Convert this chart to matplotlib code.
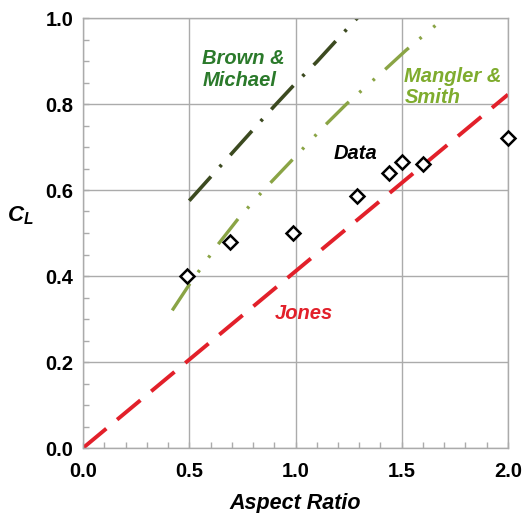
import matplotlib
matplotlib.use("Agg")
import matplotlib.pyplot as plt
from matplotlib.ticker import MultipleLocator, FormatStrFormatter

plt.rcParams['font.family'] = ['Liberation Sans', 'DejaVu Sans']
plt.rcParams['mathtext.fontset'] = 'custom'
plt.rcParams['mathtext.it'] = 'Liberation Sans:italic:bold'
plt.rcParams['mathtext.rm'] = 'Liberation Sans:bold'

# Measured lift coefficients
ar_data = [0.49, 0.69, 0.99, 1.29, 1.44, 1.50, 1.60, 2.00]
cl_data = [0.40, 0.48, 0.50, 0.585, 0.64, 0.665, 0.66, 0.72]

# Jones slender-wing theory
ar_jones = [0.0, 1.0, 2.0]
cl_jones = [0.0, 0.411, 0.822]

# Brown & Michael vortex model
ar_bm = [0.50, 0.60, 0.70, 0.80, 0.90, 1.00, 1.10, 1.20, 1.30]
cl_bm = [0.575, 0.630, 0.685, 0.740, 0.795, 0.848, 0.898, 0.952, 1.005]

# Mangler & Smith model
ar_ms = [0.42, 0.50, 0.63, 0.73, 0.85, 1.00, 1.14, 1.24, 1.41, 1.52, 1.70]
cl_ms = [0.32, 0.38, 0.47, 0.533, 0.60, 0.678, 0.751, 0.80, 0.875, 0.925, 1.00]

x_ticks = [0.0, 0.5, 1.0, 1.5, 2.0]
y_ticks = [0.0, 0.2, 0.4, 0.6, 0.8, 1.0]

fig = plt.figure(figsize=(5.26, 5.13), dpi=100)
ax = fig.add_axes([83 / 526, 1 - 448 / 513, (508 - 83) / 526, (448 - 18) / 513])

grey = '#ababab'
ax.set_xlim(0, 2.0)
ax.set_ylim(0, 1.0)
ax.set_xticks(x_ticks)
ax.set_yticks(y_ticks)
ax.xaxis.set_minor_locator(MultipleLocator(0.1))
ax.yaxis.set_minor_locator(MultipleLocator(0.05))
ax.xaxis.set_major_formatter(FormatStrFormatter('%.1f'))
ax.yaxis.set_major_formatter(FormatStrFormatter('%.1f'))
ax.grid(True, which='major', color=grey, lw=1.0)
ax.set_axisbelow(True)
for s in ax.spines.values():
    s.set_color(grey)
    s.set_linewidth(1.0)
ax.tick_params(which='both', direction='in', color=grey, width=1.0, length=4,
               top=False, right=False)
ax.tick_params(axis='y', which='major', labelsize=14.5, pad=7)
ax.tick_params(axis='x', which='major', labelsize=14.5, pad=10)
for lab in ax.get_xticklabels() + ax.get_yticklabels():
    lab.set_fontweight('bold')

ax.plot(ar_jones, cl_jones, color='#e2202a', lw=2.8,
        linestyle=(0, (7.8, 3.6)))
ax.plot(ar_bm, cl_bm, color='#3c4a20', lw=2.6,
        linestyle=(0, (9.0, 3.6, 0.8, 3.6)))
ax.plot(ar_ms, cl_ms, color='#8aa445', lw=2.4,
        linestyle=(0, (9.6, 4.2, 0.8, 4.6, 0.8, 4.2)))
ax.plot(ar_data, cl_data, linestyle='none', marker='D', ms=7.5,
        mfc='white', mec='black', mew=1.8, clip_on=False, zorder=5)

txt = dict(fontsize=14.5, fontweight='bold', fontstyle='italic',
           ha='left', va='center', linespacing=1.15)
ax.text(0.562, 0.88, 'Brown &\nMichael', color='#2b7a2b', **txt)
ax.text(1.512, 0.839, 'Mangler &\nSmith', color='#7fac2e', **txt)
ax.text(1.18, 0.686, 'Data', color='black', **txt)
ax.text(0.901, 0.313, 'Jones', color='#e2202a', **txt)

ax.set_xlabel('Aspect Ratio', fontsize=15.5, fontweight='bold',
              fontstyle='italic', labelpad=9)
fig.text(20 / 526, 1 - 216 / 513, r'$C_L$', fontsize=16,
         ha='center', va='center')

fig.savefig('out.png', dpi=100)
